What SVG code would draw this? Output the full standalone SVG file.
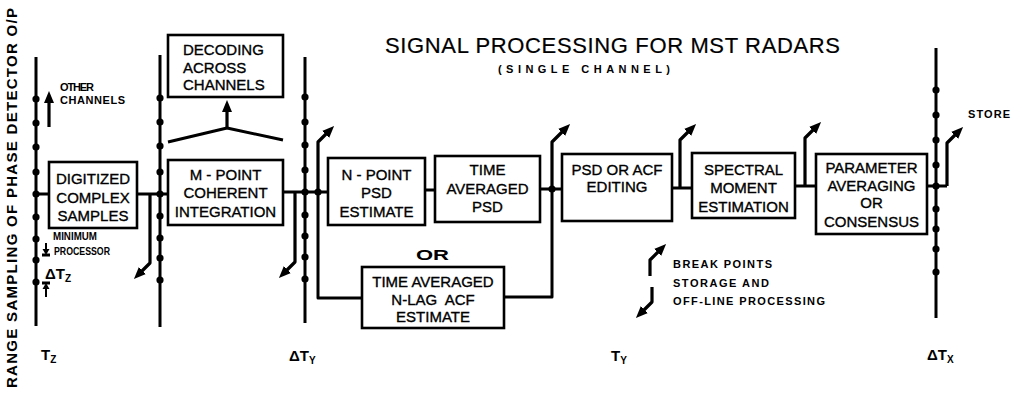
<svg xmlns="http://www.w3.org/2000/svg" width="1026" height="399" viewBox="0 0 1026 399">
<style>
.bg{fill:#fff}
.box{fill:#fff;stroke:#000;stroke-width:2.6}
.ln{fill:none;stroke:#000;stroke-width:3;stroke-linejoin:round}
.ar{fill:none;stroke:#000;stroke-width:3.2;stroke-linejoin:round;marker-end:url(#ah)}
.bt{font-family:"Liberation Sans",Arial,sans-serif;font-size:15px;fill:#000;stroke:#000;stroke-width:0.35;text-anchor:middle}
.lt{text-anchor:start}
.sm{font-family:"Liberation Sans",Arial,sans-serif;font-size:11px;font-weight:bold;fill:#000}
.lb{font-family:"Liberation Sans",Arial,sans-serif;font-size:15px;font-weight:bold;fill:#000}
.sub{font-size:10px}
</style>
<defs>
<marker id="ah" markerUnits="userSpaceOnUse" markerWidth="14" markerHeight="12" refX="2" refY="5" orient="auto">
<path d="M0,0 L12,5 L0,10 z" fill="#000"/>
</marker>
<g id="dot"><circle r="3.6" fill="#000"/></g>
</defs>
<rect class="bg" width="1026" height="399"/>

<text class="lb" font-size="16" transform="translate(17,388) rotate(-90)" textLength="380" lengthAdjust="spacing">RANGE SAMPLING OF PHASE DETECTOR O/P</text>

<g id="title">
<text x="385" y="53" font-family="'Liberation Sans',Arial,sans-serif" font-size="22" fill="#000" stroke="#000" stroke-width="0.2" textLength="455" lengthAdjust="spacing">SIGNAL PROCESSING FOR MST RADARS</text>
<text x="498" y="73" class="sm" font-size="13" textLength="172" lengthAdjust="spacing">(SINGLE CHANNEL)</text>
</g>

<g id="connectors">
<!-- line 1 -->
<path class="ln" d="M36,57 V326 M36,194 H49"/>
<use href="#dot" x="36" y="99"/><use href="#dot" x="36" y="123"/><use href="#dot" x="36" y="147"/><use href="#dot" x="36" y="172"/><use href="#dot" x="36" y="194"/><use href="#dot" x="36" y="217"/><use href="#dot" x="36" y="239"/><use href="#dot" x="36" y="260"/><use href="#dot" x="36" y="282"/>
<!-- other channels -->
<path class="ar" d="M49,127 V101"/>
<!-- line 2 -->
<path class="ln" d="M160,55 V327 M137,194 H168"/>
<use href="#dot" x="160" y="98"/><use href="#dot" x="160" y="122"/><use href="#dot" x="160" y="146"/><use href="#dot" x="160" y="172"/><use href="#dot" x="160" y="194"/><use href="#dot" x="160" y="216"/><use href="#dot" x="160" y="238"/><use href="#dot" x="160" y="258"/><use href="#dot" x="160" y="280"/>
<path class="ar" d="M150,194 V263 L141,272"/>
<!-- decoding fork -->
<path class="ln" d="M168,142 L227,128 L283,140"/>
<path class="ar" d="M227,128 V110"/>
<!-- line 3 -->
<path class="ln" d="M305,57 V323 M283,192 H328"/>
<use href="#dot" x="305" y="97"/><use href="#dot" x="305" y="122"/><use href="#dot" x="305" y="145"/><use href="#dot" x="305" y="170"/><use href="#dot" x="305" y="192"/><use href="#dot" x="305" y="215"/><use href="#dot" x="305" y="236"/><use href="#dot" x="305" y="257"/><use href="#dot" x="305" y="279"/>
<use href="#dot" x="318" y="192"/>
<path class="ar" d="M295,192 V262 L286,271"/>
<path class="ar" d="M318,192 V142 L327,133"/>
<path class="ln" d="M318,192 V298 H362"/>
<!-- psd path -->
<path class="ln" d="M425,190 H435 M540,189 H562 M504,297 H552 V189"/>
<use href="#dot" x="552" y="189"/>
<path class="ar" d="M552,189 V142 L563,131"/>
<path class="ln" d="M672,188 H692"/>
<path class="ar" d="M680,188 V140 L689,131"/>
<path class="ln" d="M795,186 H816"/>
<path class="ar" d="M805,186 V138 L814,129"/>
<!-- line 4 -->
<path class="ln" d="M936,48 V318 M927,186 H947"/>
<path class="ar" d="M947,186 V143 L956,134"/>
<use href="#dot" x="936" y="90"/><use href="#dot" x="936" y="115"/><use href="#dot" x="936" y="140"/><use href="#dot" x="936" y="165"/><use href="#dot" x="936" y="186"/><use href="#dot" x="936" y="209"/><use href="#dot" x="936" y="229"/><use href="#dot" x="936" y="249"/><use href="#dot" x="936" y="272"/>
<!-- delta Tz markers -->
<path class="ln" stroke-width="2" d="M42,255 H50 M42,283 H50"/>
<path d="M46,243 V250" stroke="#000" stroke-width="2"/><path d="M42.5,249 L49.5,249 L46,255 z" fill="#000"/>
<path d="M46,297 V289" stroke="#000" stroke-width="2"/><path d="M42.5,289 L49.5,289 L46,283 z" fill="#000"/>
<!-- legend arrows -->
<path class="ar" d="M650,276 V260 L659,251"/>
<path class="ar" d="M652,287 V302 L643,311"/>
</g>

<g id="n-digitized">
<rect class="box" x="49" y="162" width="88" height="66"/>
<text class="bt" x="93" y="184">DIGITIZED</text>
<text class="bt" x="93" y="203">COMPLEX</text>
<text class="bt" x="93" y="221">SAMPLES</text>
</g>
<g id="n-mpoint">
<rect class="box" x="168" y="160" width="115" height="65"/>
<text class="bt" x="225.5" y="180">M - POINT</text>
<text class="bt" x="225.5" y="198">COHERENT</text>
<text class="bt" x="225.5" y="217">INTEGRATION</text>
</g>
<g id="n-decoding">
<rect class="box" x="168" y="35" width="115" height="62"/>
<text class="bt lt" x="183" y="55">DECODING</text>
<text class="bt lt" x="183" y="73">ACROSS</text>
<text class="bt lt" x="183" y="90">CHANNELS</text>
</g>
<g id="n-npoint">
<rect class="box" x="328" y="158" width="97" height="67"/>
<text class="bt" x="376.5" y="180">N - POINT</text>
<text class="bt" x="376.5" y="198">PSD</text>
<text class="bt" x="376.5" y="217">ESTIMATE</text>
</g>
<g id="n-timepsd">
<rect class="box" x="435" y="156" width="105" height="66"/>
<text class="bt" x="487.5" y="175">TIME</text>
<text class="bt" x="487.5" y="194">AVERAGED</text>
<text class="bt" x="487.5" y="212">PSD</text>
</g>
<text class="lb" x="416" y="260" textLength="33" lengthAdjust="spacingAndGlyphs" font-size="13">OR</text>
<g id="n-acf">
<rect class="box" x="362" y="267" width="142" height="61"/>
<text class="bt" x="433" y="287">TIME AVERAGED</text>
<text class="bt" x="433" y="305" xml:space="preserve">N-LAG  ACF</text>
<text class="bt" x="433" y="322">ESTIMATE</text>
</g>
<g id="n-editing">
<rect class="box" x="562" y="154" width="110" height="67"/>
<text class="bt" x="617" y="175">PSD OR ACF</text>
<text class="bt" x="617" y="192">EDITING</text>
</g>
<g id="n-spectral">
<rect class="box" x="692" y="153" width="103" height="65"/>
<text class="bt" x="743.5" y="175">SPECTRAL</text>
<text class="bt" x="743.5" y="193">MOMENT</text>
<text class="bt" x="743.5" y="212">ESTIMATION</text>
</g>
<g id="n-parameter">
<rect class="box" x="816" y="154" width="111" height="80"/>
<text class="bt" x="871.5" y="173">PARAMETER</text>
<text class="bt" x="871.5" y="191">AVERAGING</text>
<text class="bt" x="871.5" y="208">OR</text>
<text class="bt" x="871.5" y="227">CONSENSUS</text>
</g>

<g id="labels">
<text class="sm" x="60" y="91" textLength="34" lengthAdjust="spacing">OTHER</text>
<text class="sm" x="60" y="104" textLength="65" lengthAdjust="spacing">CHANNELS</text>
<text class="sm" x="53" y="240" font-size="10" textLength="44" lengthAdjust="spacingAndGlyphs">MINIMUM</text>
<text class="sm" x="54" y="255" font-size="10" textLength="56" lengthAdjust="spacingAndGlyphs">PROCESSOR</text>
<text class="lb" x="45" y="279" font-size="14">ΔT<tspan class="sub" dy="3">Z</tspan></text>
<text class="sm" x="968" y="118" font-size="12" textLength="42" lengthAdjust="spacing">STORE</text>
<text class="sm" x="673" y="268" textLength="99" lengthAdjust="spacing">BREAK POINTS</text>
<text class="sm" x="673" y="287" textLength="96" lengthAdjust="spacing">STORAGE AND</text>
<text class="sm" x="673" y="305" textLength="152" lengthAdjust="spacing">OFF-LINE PROCESSING</text>
<text class="lb" x="41" y="360">T<tspan class="sub" dy="3">Z</tspan></text>
<text class="lb" x="289" y="361">ΔT<tspan class="sub" dy="3">Y</tspan></text>
<text class="lb" x="611" y="361">T<tspan class="sub" dy="3">Y</tspan></text>
<text class="lb" x="927" y="360">ΔT<tspan class="sub" dy="3">X</tspan></text>
</g>
</svg>
